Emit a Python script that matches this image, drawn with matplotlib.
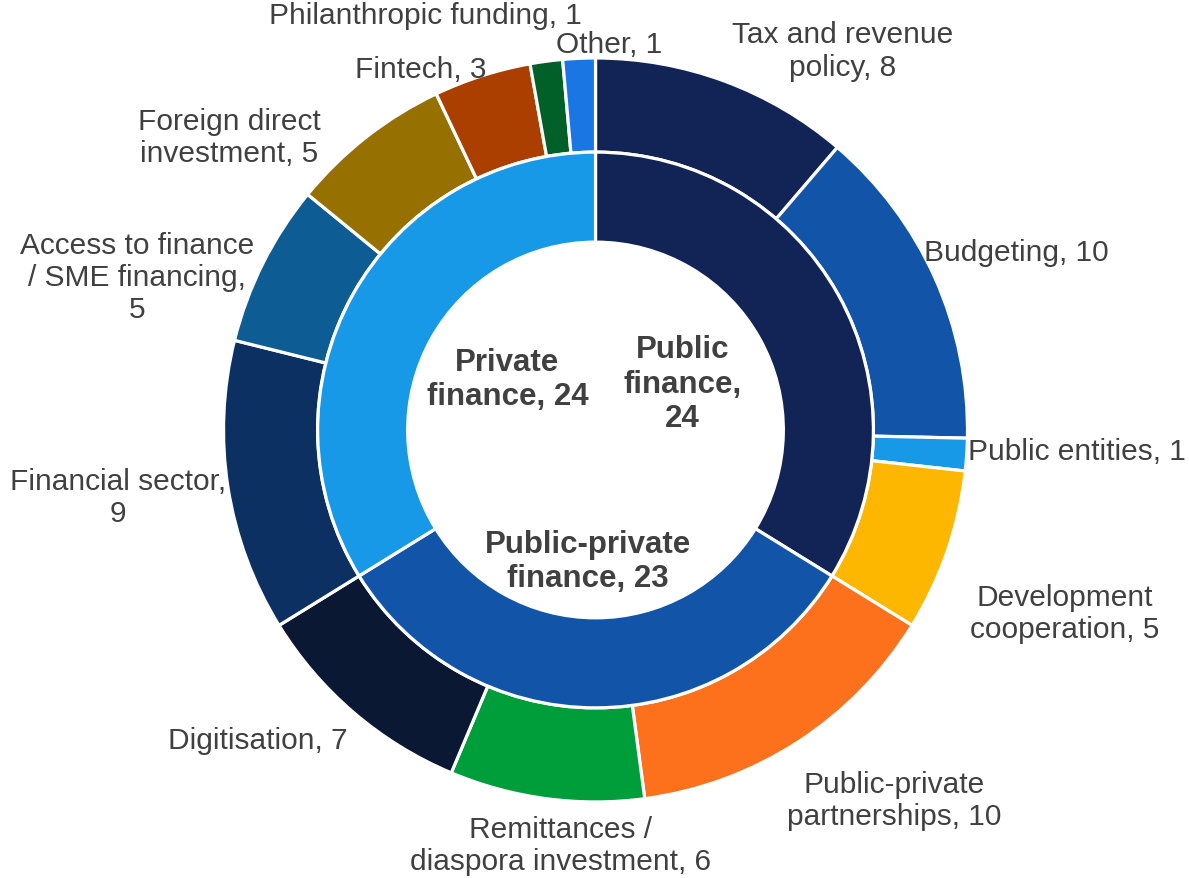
import matplotlib
matplotlib.use("Agg")
import matplotlib.pyplot as plt

plt.rcParams['font.family'] = ['Liberation Sans', 'DejaVu Sans']

# inner ring
groups = ['Public\nfinance,\n24', 'Public-private\nfinance, 23', 'Private\nfinance, 24']
group_values = [24, 23, 24]
group_colors = ['#122356', '#1255A8', '#1899E8']

# outer ring
topics = ['Tax and revenue\npolicy, 8', 'Budgeting, 10', 'Public entities, 1',
          'Development\ncooperation, 5', 'Public-private\npartnerships, 10',
          'Remittances /\ndiaspora investment, 6', 'Digitisation, 7',
          'Financial sector,\n9', 'Access to finance\n/ SME financing,\n5',
          'Foreign direct\ninvestment, 5', 'Fintech, 3',
          'Philanthropic funding, 1', 'Other, 1']
topic_values = [8, 10, 1, 5, 10, 6, 7, 9, 5, 5, 3, 1, 1]
topic_colors = ['#122356', '#1255A8', '#1899E8', '#FDB700', '#FD711C', '#009E3B',
                '#0A1833', '#0C3062', '#0E5C94', '#967000', '#AA3F00', '#006028',
                '#1A76E3']

# label positions (in units of the outer radius)
topic_label_xy = [(0.663, 1.020), (1.130, 0.478), (1.293, -0.056), (1.262, -0.492),
                  (0.803, -0.994), (-0.095, -1.116), (-0.907, -0.833),
                  (-1.284, -0.180), (-1.233, 0.411), (-0.985, 0.788),
                  (-0.469, 0.970), (-0.458, 1.116), (0.036, 1.038)]
group_label_xy = [(0.234, 0.124), (-0.020, -0.352), (-0.237, 0.137)]

fig = plt.figure(figsize=(11.89, 8.79), dpi=100)
ax = fig.add_axes([0.188, 0.0865, 0.6257, 0.8464])

wedge_style = dict(edgecolor='white', linewidth=2.3)
ax.pie(topic_values, radius=1.0, colors=topic_colors, startangle=90,
       counterclock=False, wedgeprops=dict(width=0.253, **wedge_style))
ax.pie(group_values, radius=0.747, colors=group_colors, startangle=90,
       counterclock=False, wedgeprops=dict(width=0.242, **wedge_style))

for label, (x, y) in zip(topics, topic_label_xy):
    ax.text(x, y, label, ha='center', va='center', fontsize=21.5,
            color='#404040', linespacing=1.2)

for label, (x, y) in zip(groups, group_label_xy):
    ax.text(x, y, label, ha='center', va='center', fontsize=22.5,
            fontweight='bold', color='#404040', linespacing=1.2)

ax.set_xlim(-1, 1)
ax.set_ylim(-1, 1)
ax.axis('off')

fig.savefig('out.png', dpi=100, facecolor='white')
